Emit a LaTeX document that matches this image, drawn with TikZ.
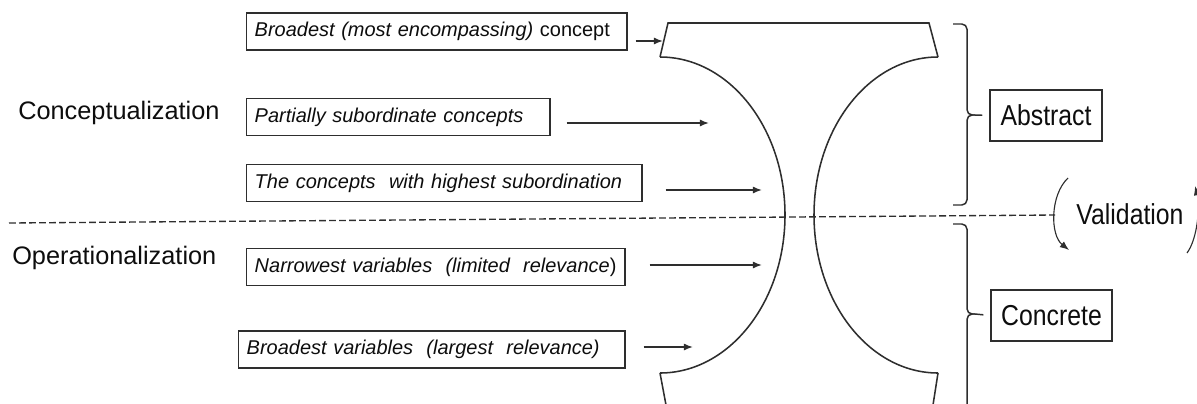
\documentclass[tikz,border=0pt]{standalone}
\usepackage{fontspec}
\setmainfont{Liberation Sans}
\setsansfont{Liberation Sans}
\newfontfamily\narrowfont[FakeStretch=0.86]{Liberation Sans}
\usetikzlibrary{arrows.meta}
\definecolor{ink}{HTML}{0D0D0D}
\definecolor{lineink}{HTML}{2E2E2E}
\tikzset{
  level/.style={
    rectangle,
    draw=lineink,
    line width=1.05pt,
    anchor=west,
    align=left,
    inner xsep=0.2cm,
    minimum height=0.93cm,
    font=\fontsize{14.2}{17}\selectfont\itshape
  },
  pole/.style={
    rectangle,
    draw=lineink,
    line width=1.05pt,
    align=center,
    minimum height=1.27cm,
    font=\narrowfont\fontsize{20.5}{24}\selectfont
  },
  phase/.style={
    anchor=west,
    inner sep=0pt,
    font=\fontsize{18}{22}\selectfont
  },
  feed/.style={
    -{Latex[length=2.3mm,width=1.8mm]},
    draw=lineink,
    line width=1.05pt
  },
  loop/.style={
    -{Latex[length=2.3mm,width=1.8mm]},
    draw=lineink,
    line width=0.8pt
  },
  outline/.style={draw=lineink, line width=1.1pt},
  bracket/.style={draw=lineink, line width=1.05pt, rounded corners=1.3mm},
  divider/.style={draw=lineink, line width=0.95pt, dash pattern=on 1.7mm off 0.8mm}
}

\begin{document}
\begin{tikzpicture}[
  x=0.025cm, y=-0.025cm,
  every node/.style={text=ink}
]
\useasboundingbox (0,0) rectangle (1197,403);

% Phase labels on the left.
\node[phase] (concept) at (18,112.5) {Conceptualization};
\node[phase] (operation) at (12,258) {Operationalization};

% Levels of the hierarchy.
\node[level, text width=9.1cm] (broad) at (246,31.5)
  {Broadest (most encompassing) {\upshape concept}};
\node[level, text width=7.175cm] (partial) at (246,117)
  {Partially subordinate concepts};
\node[level, text width=9.475cm] (highest) at (246,183)
  {The concepts~ with highest subordination};
\node[level, text width=9.05cm] (narrow) at (246,267)
  {Narrowest variables~ (limited~ relevance{\upshape )}};
\node[level, text width=9.25cm] (widevar) at (238,349.5)
  {Broadest variables~ (largest~ relevance)};

% Hourglass outline.
\draw[outline] (660,57) -- (668,23) -- (929,23) -- (938,57);
\draw[outline] (660,57) arc[start angle=-90, end angle=90, x radius=125, y radius=158];
\draw[outline] (938,57) arc[start angle=-90, end angle=-270, x radius=124, y radius=158];
\draw[outline] (660,373) -- (666,405);
\draw[outline] (938,373) -- (933,405);

% Arrow targets on the hourglass.
\coordinate (in1) at (663,41);
\coordinate (in2) at (709,123);
\coordinate (in3) at (762,190);
\coordinate (in4) at (762,265);
\coordinate (in5) at (693,347);

\draw[feed, shorten <=0.2cm] (broad.east |- in1) -- (in1);
\draw[feed, shorten <=0.4cm] (partial.east |- in2) -- (in2);
\draw[feed, shorten <=0.575cm] (highest.east |- in3) -- (in3);
\draw[feed, shorten <=0.6cm] (narrow.east |- in4) -- (in4);
\draw[feed, shorten <=0.45cm] (widevar.east |- in5) -- (in5);

% Divider between the two phases.
\draw[divider] (9,223) -- (1055,215);

% Abstract / concrete braces.
\node[pole, minimum width=2.8cm] (abstract) at (1046,115.5) {Abstract};
\node[pole, minimum width=3.02cm] (concrete) at (1051.5,315.5) {Concrete};

\coordinate (abstip) at (975,115);
\coordinate (contip) at (975,314);
\draw[bracket] (953,24) -- (967,24) -- (967,115) -- (abstip);
\draw[bracket] (abstip) -- (967,115) -- (967,205) -- (953,205);
\draw[bracket] (953,224) -- (967,224) -- (967,314) -- (contip);
\draw[bracket] (contip) -- (967,314) -- (967,405);
\draw[bracket, shorten >=0.175cm] (abstip) -- (abstract.west);
\draw[bracket, shorten >=0.175cm] (contip) -- (concrete.west);

% Validation loop.
\node[font=\narrowfont\fontsize{20.5}{24}\selectfont, inner sep=0pt] (valid) at (1130,213.7) {Validation};
\coordinate (vl1) at (1068,178);
\coordinate (vl2) at (1069,250);
\coordinate (vr1) at (1187,253);
\coordinate (vr2) at (1195,186);
\draw[loop] (vl1) .. controls (1050,195) and (1050,235) .. (vl2);
\draw[loop] (vr1) .. controls (1198,238) and (1200,205) .. (vr2);

\end{tikzpicture}
\end{document}
